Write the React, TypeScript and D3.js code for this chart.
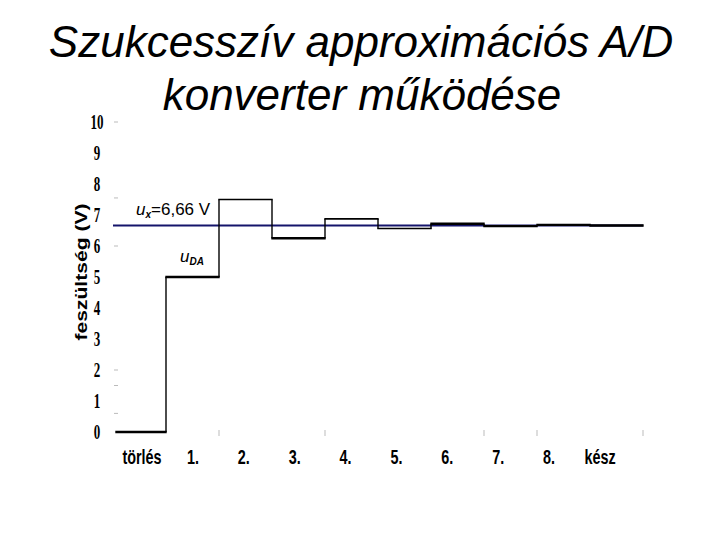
import React from "react";
import * as d3 from "d3";

const categories = ["törlés", "1.", "2.", "3.", "4.", "5.", "6.", "7.", "8.", "kész"];
const uDA = [0, 5, 7.5, 6.25, 6.875, 6.5625, 6.72, 6.64, 6.68, 6.66];
const uX = 6.66;
const yTicks = [0, 1, 2, 3, 4, 5, 6, 7, 8, 9, 10];
const yFaintTicks = [10, 7.55, 6, 2, 1.5, 0.6];
const xFaintTickAfter = ["1.", "3.", "6.", "7.", "kész"];

const W = 720;
const H = 540;

export default function App() {
  const y = d3.scaleLinear().domain([0, 10]).range([432, 122]);
  const x = d3.scaleBand<string>().domain(categories).range([113, 643]).padding(0);
  const xl = d3.scalePoint<string>().domain(categories).range([142, 600]);
  const bw = x.bandwidth();

  const horiz = categories.map((c, i) => ({
    x1: i === 0 ? x(c)! + 3 : x(c)!,
    x2: x(c)! + bw,
    y: y(uDA[i]),
  }));
  const verts = categories.slice(1).map((c, i) => ({
    x: x(c)!,
    y1: y(uDA[i]),
    y2: y(uDA[i + 1]),
  }));

  const serif = "'Liberation Serif', 'DejaVu Serif', serif";
  const sans = "'Liberation Sans', Arial, sans-serif";

  return (
    <svg width={W} height={H} style={{ position: "absolute", left: 0, top: 0, background: "#fff" }}>
      <rect x={0} y={0} width={W} height={H} fill="#fff" />
      <text x={361} y={57} textAnchor="middle" fontFamily={sans} fontStyle="italic" fontSize={44} fill="#000">
        Szukcesszív approximációs A/D
      </text>
      <text x={362} y={110} textAnchor="middle" fontFamily={sans} fontStyle="italic" fontSize={44} fill="#000">
        konverter működése
      </text>

      {/* y tick labels */}
      {yTicks.map((t) => (
        <text
          key={t}
          x={97}
          y={y(t) + 7}
          textAnchor="middle"
          fontFamily={serif}
          fontWeight="bold"
          fontSize={20}
          textLength={String(t).length * 6.5}
          lengthAdjust="spacingAndGlyphs"
          fill="#000"
        >
          {t}
        </text>
      ))}
      {yFaintTicks.map((t, i) => (
        <line key={i} x1={114} x2={118} y1={y(t)} y2={y(t)} stroke="#bbb" strokeWidth={1} />
      ))}
      {xFaintTickAfter.map((c, i) => (
        <line key={i} x1={x(c)! + bw} x2={x(c)! + bw} y1={430} y2={436} stroke="#bbb" strokeWidth={1} />
      ))}

      {/* y axis title */}
      <text
        transform="translate(87,272) rotate(-90)"
        textAnchor="middle"
        fontFamily={sans}
        fontWeight="bold"
        fontSize={17}
        textLength={137}
        lengthAdjust="spacingAndGlyphs"
        fill="#000"
      >
        feszültség (V)
      </text>

      {/* x labels */}
      {categories.map((c) => (
        <g key={c} transform={`translate(${xl(c)},464) scale(0.72,1)`}>
          <text
            x={0}
            y={0}
            textAnchor="middle"
            fontFamily={sans}
            fontWeight="bold"
            fontSize={20}
            fill="#000"
          >
            {c}
          </text>
        </g>
      ))}

      {/* reference line u_x */}
      <line x1={113} x2={643} y1={y(uX)} y2={y(uX)} stroke="#14146b" strokeWidth={2} />

      {/* step u_DA */}
      {verts.map((v, i) => (
        <line key={"v" + i} x1={v.x} x2={v.x} y1={v.y1} y2={v.y2} stroke="#000" strokeWidth={1.4} />
      ))}
      {horiz.map((h, i) => (
        <line key={"h" + i} x1={h.x1 - 0.7} x2={h.x2 + 0.7} y1={h.y} y2={h.y} stroke="#000" strokeWidth={i === 2 || i === 4 || i === 5 ? 1.6 : 2.4} />
      ))}

      {/* annotations */}
      <text x={136} y={215} fontFamily={sans} fontSize={17} fill="#000">
        <tspan fontStyle="italic">u</tspan>
        <tspan fontStyle="italic" fontWeight="bold" fontSize={10} dy={3}>x</tspan>
        <tspan dy={-3}>=6,66 V</tspan>
      </text>
      <text x={180} y={262} fontFamily={sans} fontSize={17} fill="#000">
        <tspan fontStyle="italic">u</tspan>
        <tspan fontStyle="italic" fontWeight="bold" fontSize={10} dy={3}>DA</tspan>
      </text>
    </svg>
  );
}
